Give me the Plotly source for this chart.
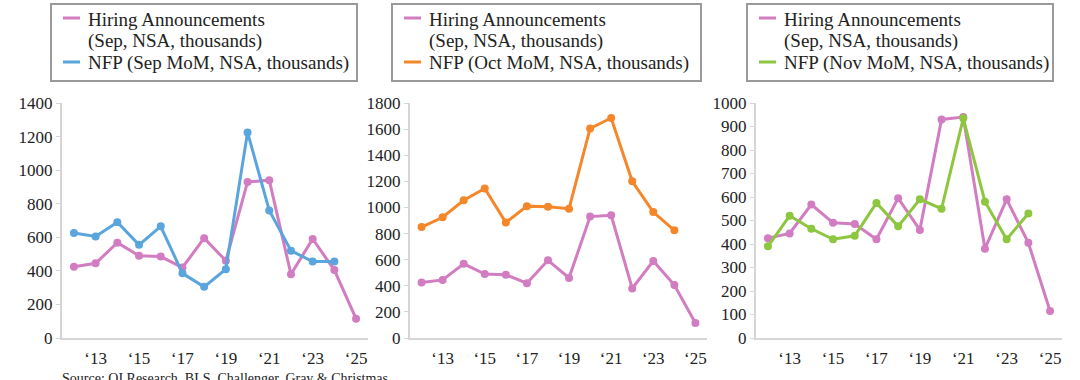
import plotly.graph_objects as go

years = [2012, 2013, 2014, 2015, 2016, 2017, 2018, 2019, 2020, 2021, 2022, 2023, 2024, 2025]
nfp_years = years[:-1]
hiring = [425, 445, 568, 490, 485, 420, 595, 460, 930, 940, 380, 590, 405, 115]
nfp_sep = [625, 605, 690, 555, 665, 385, 305, 410, 1225, 760, 520, 455, 455]
nfp_oct = [850, 925, 1055, 1145, 885, 1010, 1005, 990, 1605, 1685, 1200, 965, 825]
nfp_nov = [390, 520, 465, 420, 435, 575, 475, 590, 550, 935, 580, 420, 530]
tick_years = [2013, 2015, 2017, 2019, 2021, 2023, 2025]
tick_labels = ["\u201813", "\u201815", "\u201817", "\u201819", "\u201821", "\u201823", "\u201825"]
hiring_lines = ["Hiring Announcements", "(Sep, NSA, thousands)"]
nfp_names = ["NFP (Sep MoM, NSA, thousands)", "NFP (Oct MoM, NSA, thousands)",
             "NFP (Nov MoM, NSA, thousands)"]

PINK = "#d27cc1"
BLUE = "#5aa5dd"
ORANGE = "#f5862a"
GREEN = "#8dc63f"
FONT = "'Liberation Serif', serif"
TXT = "#222222"

panels = [
    (nfp_sep, BLUE, nfp_names[0], 1400, 200, (62, 368), (51, 357)),
    (nfp_oct, ORANGE, nfp_names[1], 1800, 200, (410, 707), (392, 701)),
    (nfp_nov, GREEN, nfp_names[2], 1000, 100, (756, 1062), (747, 1053)),
]

W, H = 1080, 380
def px(x):
    return x / W
def py(y):
    return 1 - y / H

fig = go.Figure()
layout = dict(
    width=W, height=H, margin=dict(l=0, r=0, t=0, b=0, autoexpand=False),
    paper_bgcolor="white", plot_bgcolor="white",
    font=dict(family=FONT, size=17, color=TXT),
    showlegend=False,
)
ybot = py(338)
ytop = py(103)
shapes = []
annotations = []
for i, (nfp, col, name, ymax, dt, (x0, x1), (bx0, bx1)) in enumerate(panels):
    n = i + 1
    xa = "x" if n == 1 else f"x{n}"
    ya = "y" if n == 1 else f"y{n}"
    fig.add_trace(go.Scatter(x=years, y=hiring, mode="lines+markers", name="Hiring Announcements",
                             line=dict(color=PINK, width=3), marker=dict(color=PINK, size=8),
                             xaxis=xa, yaxis=ya))
    fig.add_trace(go.Scatter(x=nfp_years, y=nfp, mode="lines+markers", name=name,
                             line=dict(color=col, width=3), marker=dict(color=col, size=8),
                             xaxis=xa, yaxis=ya))
    xkey = "xaxis" if n == 1 else f"xaxis{n}"
    ykey = "yaxis" if n == 1 else f"yaxis{n}"
    layout[xkey] = dict(domain=[px(x0), px(x1)], anchor=ya, range=[2011.45, 2025.55],
                        tickvals=tick_years, ticktext=tick_labels, showgrid=False,
                        showline=True, linecolor="#d6d6d6", linewidth=2, ticks="",
                        ticklabelstandoff=4,
                        zeroline=False, tickfont=dict(size=17, family=FONT, color=TXT),
                        fixedrange=True)
    layout[ykey] = dict(domain=[ybot, ytop], anchor=xa, range=[0, ymax], dtick=dt, tick0=0,
                        showgrid=False, showline=True, linecolor="#d6d6d6", linewidth=2,
                        ticks="outside", ticklen=4, tickcolor="#d6d6d6", zeroline=False,
                        tickfont=dict(size=17, family=FONT, color=TXT), fixedrange=True)
    # legend box
    shapes.append(dict(type="rect", xref="paper", yref="paper",
                       x0=px(bx0), x1=px(bx1), y0=py(81), y1=py(4),
                       line=dict(color="#9a9a9a", width=2), fillcolor="white", layer="above"))
    sx0 = bx0 + 12
    sx1 = sx0 + 17
    tx = sx1 + 6
    shapes.append(dict(type="line", xref="paper", yref="paper",
                       x0=px(sx0), x1=px(sx1), y0=py(18), y1=py(18),
                       line=dict(color=PINK, width=3), layer="above"))
    shapes.append(dict(type="line", xref="paper", yref="paper",
                       x0=px(sx0), x1=px(sx1), y0=py(62), y1=py(62),
                       line=dict(color=col, width=3), layer="above"))
    for txt, cy in zip(hiring_lines + [name], [19, 41, 63]):
        annotations.append(dict(text=txt, xref="paper", yref="paper",
                                x=px(tx), y=py(cy), xanchor="left", yanchor="middle",
                                align="left", showarrow=False,
                                font=dict(family=FONT, size=19, color=TXT)))

annotations.append(dict(text="Source: QI Research, BLS, Challenger, Gray & Christmas",
                        x=px(60), y=py(369), xref="paper", yref="paper",
                        xanchor="left", yanchor="top", showarrow=False,
                        font=dict(family=FONT, size=14, color=TXT)))
layout["shapes"] = shapes
layout["annotations"] = annotations
fig.update_layout(**layout)
fig.write_html("out.html", config={"displayModeBar": False},
               post_script="document.body.style.margin='0';")
